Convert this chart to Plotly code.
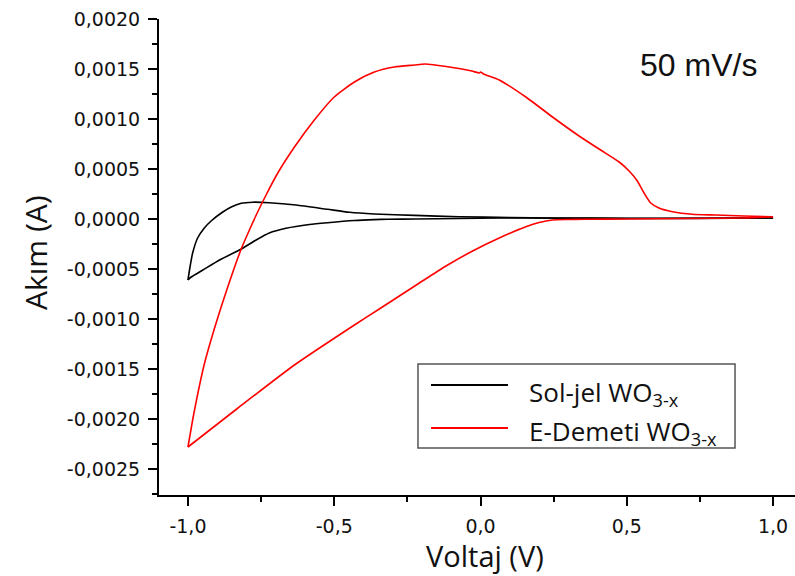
import plotly.graph_objects as go

# Cyclic voltammetry, 50 mV/s scan rate
series_names = ["Sol-jel WO<sub>3-x</sub>", "E-Demeti WO<sub>3-x</sub>"]
series_colors = ["#000000", "#ff0000"]

# Sol-jel WO3-x: anodic sweep (-1.0 -> 1.0), then cathodic sweep back
soljel_v = [-1.000, -0.993, -0.984, -0.967, -0.944, -0.921, -0.881, -0.852, -0.818, -0.779,
            -0.722, -0.630, -0.523, -0.448, -0.363, -0.226, -0.073, 0.100, 0.250, 0.500,
            0.750, 1.000,
            0.750, 0.500, 0.250, 0.064, -0.073, -0.221, -0.317, -0.363, -0.431, -0.523,
            -0.585, -0.665, -0.722, -0.767, -0.818, -0.892, -0.949, -0.989, -1.000]
soljel_i = [-0.00061, -0.00048, -0.00034, -0.00019, -0.00009, -0.00002, 0.00007, 0.00012, 0.000157, 0.000168,
            0.000163, 0.00014, 0.000097, 0.000067, 0.00005, 0.000036, 0.000023, 0.000015, 0.00001, 0.000008,
            0.000008, 0.00001,
            0.000006, 0.000005, 0.000008, 0.00001, 0.000005, 0.0, -0.000002, -0.000006, -0.000015, -0.000037,
            -0.000055, -0.000093, -0.00014, -0.00021, -0.0003, -0.00041, -0.00051, -0.00058, -0.00061]

# E-Demeti WO3-x: anodic sweep (-1.0 -> 1.0), then cathodic sweep back
edemeti_v = [-1.000, -0.984, -0.966, -0.944, -0.909, -0.864, -0.818, -0.790, -0.765, -0.733,
             -0.693, -0.636, -0.568, -0.500, -0.431, -0.363, -0.295, -0.226, -0.190, -0.107,
             -0.030, -0.004, 0.000, 0.010, 0.064, 0.155, 0.246, 0.337, 0.405, 0.474,
             0.508, 0.536, 0.559, 0.582, 0.610, 0.656, 0.724, 0.804, 0.900, 1.000,
             0.900, 0.700, 0.500, 0.350, 0.300, 0.246, 0.200, 0.155, 0.064, -0.027,
             -0.118, -0.209, -0.346, -0.431, -0.636, -0.829, -1.000]
edemeti_i = [-0.00228, -0.00201, -0.00174, -0.00145, -0.00109, -0.00068, -0.00030, -0.00011, 0.00005, 0.00024,
             0.00046, 0.00072, 0.00099, 0.00122, 0.00137, 0.00147, 0.00152, 0.00154, 0.00155, 0.00152,
             0.00148, 0.00146, 0.00147, 0.00145, 0.00139, 0.00122, 0.00102, 0.00083, 0.00070, 0.00057,
             0.00048, 0.00038, 0.00026, 0.00016, 0.00011, 0.000073, 0.000047, 0.00004, 0.00003, 0.000023,
             0.00001, 0.000005, 0.0, -0.000003, -0.000005, -0.00001, -0.000035, -0.000077, -0.00019, -0.00032,
             -0.00047, -0.00064, -0.00090, -0.00106, -0.00146, -0.00189, -0.00228]

# Axis ticks
x_tickvals = [-1.0, -0.5, 0.0, 0.5, 1.0]
x_ticktext = ["-1,0", "-0,5", "0,0", "0,5", "1,0"]
x_minorvals = [-0.75, -0.25, 0.25, 0.75]
y_tickvals = [0.0020, 0.0015, 0.0010, 0.0005, 0.0, -0.0005, -0.0010, -0.0015, -0.0020, -0.0025]
y_ticktext = ["0,0020", "0,0015", "0,0010", "0,0005", "0,0000",
              "-0,0005", "-0,0010", "-0,0015", "-0,0020", "-0,0025"]
y_minorvals = [0.00175, 0.00125, 0.00075, 0.00025, -0.00025, -0.00075,
               -0.00125, -0.00175, -0.00225, -0.00275]

x_title = "Voltaj (V)"
y_title = "Akım (A)"
rate_label = "50 mV/s"

fig = go.Figure()


def add_cycle(v, i, color):
    """Draw the anodic and cathodic sweeps separately so the vertex stays sharp."""
    turn = v.index(max(v))
    for seg_v, seg_i in ((v[:turn + 1], i[:turn + 1]), (v[turn:], i[turn:])):
        fig.add_trace(go.Scatter(x=seg_v, y=seg_i, mode="lines", showlegend=False,
                                 line=dict(color=color, width=1.6, shape="spline", smoothing=0.6)))


add_cycle(soljel_v, soljel_i, series_colors[0])
add_cycle(edemeti_v, edemeti_i, series_colors[1])

tick_font = dict(family="DejaVu Sans", size=19, color="#111111")
fig.update_xaxes(range=[-1.099, 1.075], showline=True, linecolor="black", linewidth=2,
                 ticks="outside", ticklen=9, tickwidth=1.5, tickcolor="black",
                 tickmode="array", tickvals=x_tickvals, ticktext=x_ticktext,
                 tickfont=tick_font, showgrid=False, zeroline=False, ticklabelstandoff=4,
                 minor=dict(tickmode="array", tickvals=x_minorvals, ticks="outside",
                            ticklen=5, tickwidth=1.5, tickcolor="black", showgrid=False))
fig.update_yaxes(range=[-0.00276, 0.0020], showline=True, linecolor="black", linewidth=2,
                 ticks="outside", ticklen=9, tickwidth=1.5, tickcolor="black",
                 tickmode="array", tickvals=y_tickvals, ticktext=y_ticktext,
                 tickfont=tick_font, showgrid=False, zeroline=False, ticklabelstandoff=4,
                 minor=dict(tickmode="array", tickvals=y_minorvals, ticks="outside",
                            ticklen=5, tickwidth=1.5, tickcolor="black", showgrid=False))

# Hand-drawn legend box with long line samples
shapes = [dict(type="rect", xref="paper", yref="paper", x0=0.4072, x1=0.9057, y0=0.0987, y1=0.2752,
               line=dict(color="#555555", width=1.5), fillcolor="white", layer="above")]
legend_rows_y = [0.2311, 0.1408]
for yy, col in zip(legend_rows_y, series_colors):
    shapes.append(dict(type="line", xref="paper", yref="paper", x0=0.4277, x1=0.5487, y0=yy, y1=yy,
                       line=dict(color=col, width=2), layer="above"))

annotations = []
legend_text_y = [0.2150, 0.1330]
for yy, name in zip(legend_text_y, series_names):
    annotations.append(dict(text=name, xref="paper", yref="paper", x=0.5786, y=yy,
                            xanchor="left", yanchor="middle", showarrow=False,
                            font=dict(family="Open Sans", size=26, color="#111111")))

annotations.append(dict(text=rate_label, xref="paper", yref="paper", x=0.8475, y=0.9044,
                        xanchor="center", yanchor="middle", showarrow=False,
                        font=dict(family="Liberation Sans", size=32, color="#111111")))
annotations.append(dict(text=x_title, xref="paper", yref="paper", x=0.5126, y=-0.128,
                        xanchor="center", yanchor="middle", showarrow=False,
                        font=dict(family="Open Sans", size=29, color="#111111")))
annotations.append(dict(text=y_title, xref="paper", yref="paper", x=-0.195, y=0.5105,
                        xanchor="center", yanchor="middle", showarrow=False, textangle=-90,
                        font=dict(family="Open Sans", size=30, color="#111111")))

fig.update_layout(width=795, height=576, margin=dict(l=159, r=0, t=19, b=81),
                  paper_bgcolor="white", plot_bgcolor="white",
                  shapes=shapes, annotations=annotations, showlegend=False)

fig.write_html("out.html")
